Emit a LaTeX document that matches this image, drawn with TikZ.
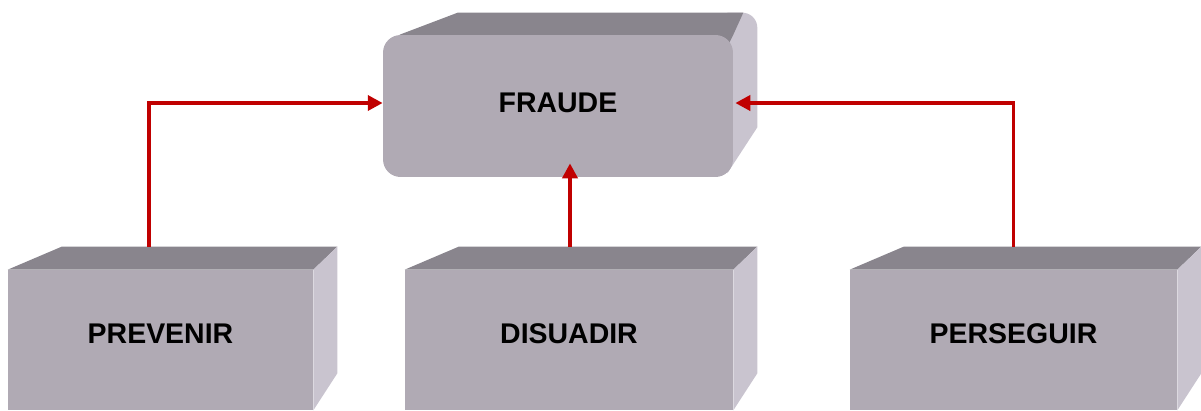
\documentclass[tikz,border=0pt]{standalone}
\usepackage{fontspec}
\setmainfont{Liberation Sans}
\usetikzlibrary{arrows.meta,backgrounds}
\definecolor{frente}{RGB}{176,170,180}
\definecolor{techo}{RGB}{137,133,141}
\definecolor{lado}{RGB}{201,196,207}
\definecolor{rojo}{RGB}{192,0,0}
\tikzset{
  box/.style = {rectangle, fill = frente, inner sep = 0pt,
                minimum height = 2.8cm, text depth = 6.8pt,
                font = \fontsize{16.2}{19}\selectfont\bfseries},
  goal/.style = {box, rounded corners = 0.35cm, minimum width = 7cm,
                minimum height = 2.84cm, text depth = 3.4pt},
  roof/.style = {fill = techo},
  wall/.style = {fill = lado},
  arr/.style  = {-{Triangle[length=8.5pt,width=8.5pt]}, draw = rojo,
                 line width = 2.2pt}
}

\begin{document}
\begin{tikzpicture}[x=0.02cm, y=-0.02cm]
  \clip (0,0) rectangle (1201,410);

  % goal box, top and right side behind it
  \node[goal] (fraude) at (558,106) {FRAUDE};
  \begin{scope}[on background layer]
    \fill[wall] ([shift={(-6,12)}]fraude.north east) -- ([shift={(-6,-22)}]fraude.north east)
      [rounded corners=0.3cm] -- ([shift={(24,-22)}]fraude.north east)
      [sharp corners] -- ([shift={(24,-50)}]fraude.south east)
      -- ([shift={(-6,-4)}]fraude.south east) -- cycle;
    \fill[roof] ([shift={(17,12)}]fraude.north west) -- ([shift={(17,0)}]fraude.north west)
      -- ([shift={(75,-22)}]fraude.north west) -- ([shift={(10,-22)}]fraude.north east)
      -- (fraude.north east) -- ([shift={(-6,12)}]fraude.north east) -- cycle;
  \end{scope}

  % the three strategies
  \node[box, minimum width=6.1cm]  (prev) at (160.5,340) {PREVENIR};
  \node[box, minimum width=6.56cm] (disu) at (569,340)   {DISUADIR};
  \node[box, minimum width=6.54cm] (pers) at (1013.5,340) {PERSEGUIR};

  \foreach \n in {prev,disu,pers}{
    \fill[roof] (\n.north west) -- ([shift={(54,-23)}]\n.north west)
      -- ([shift={(24,-23)}]\n.north east) -- (\n.north east) -- cycle;
    \fill[wall] (\n.north east) -- ([shift={(24,-23)}]\n.north east)
      -- ([shift={(24,-37)}]\n.south east) -- (\n.south east) -- cycle;
  }

  \draw[arr] ([shift={(-11.5,-23)}]prev.north) |- ([shift={(0,-3)}]fraude.west);
  \draw[arr] ([shift={(1,-23)}]disu.north) -- ([shift={(12,-14)}]fraude.south);
  \draw[arr] ([shift={(0,-23)}]pers.north) |- ([shift={(2,-3)}]fraude.east);
\end{tikzpicture}
\end{document}
